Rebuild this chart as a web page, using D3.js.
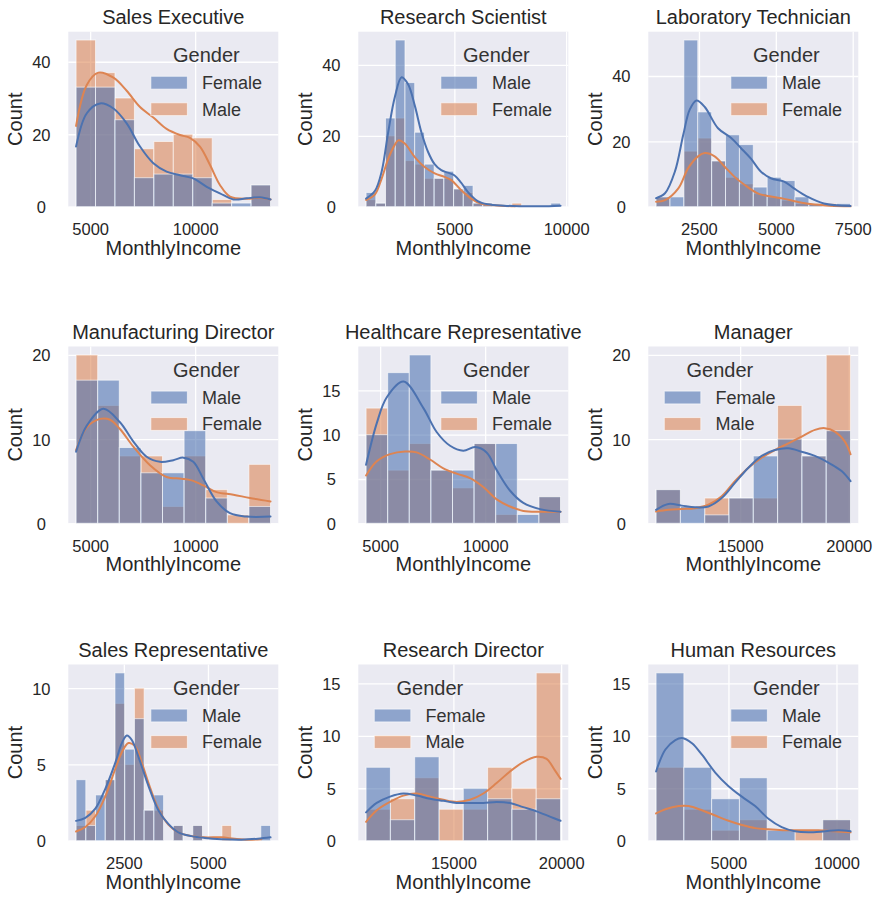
<!DOCTYPE html>
<html>
<head>
<meta charset="utf-8">
<script src="https://cdn.jsdelivr.net/npm/d3@7"></script>
<style>
  body { margin: 0; background: #fff; }
  svg { display: block; }
</style>
</head>
<body>
<script>
// ---------- Data: monthly income histograms by job role, split by gender ----------
const jobRoles = [
  "Sales Executive", "Research Scientist", "Laboratory Technician",
  "Manufacturing Director", "Healthcare Representative", "Manager",
  "Sales Representative", "Research Director", "Human Resources"
];

// Sales Executive
const salesExecHue = ["Female", "Male"];
const salesExecRange = [4330, 13590];
const salesExecFemale = [33, 33, 24, 8, 9, 9, 8, 1, 1, 6];
const salesExecMale = [46, 37, 30, 16, 18, 20, 19, 2, 0, 6];
const salesExecKdeFemale = [[4330,16.6],[4840,25.8],[5470,28.5],[6110,27.1],[6740,23],[7375,16.6],[8010,12],[8640,9.7],[9280,8.7],[9910,7.8],[10550,5.5],[11180,3.7],[11820,2],[12450,2.3],[13085,2.6],[13590,2]];
const salesExecKdeMale = [[4330,22.3],[4840,33.6],[5390,37],[6110,35.6],[6740,32],[7375,27.5],[8010,24.6],[8640,21.5],[9280,19.8],[9750,19],[10230,16.6],[10710,11.5],[11180,6],[11660,2.8],[12450,2.2],[13085,2.5],[13590,2]];
const salesExecXTicks = [5000, 10000];
const salesExecYTicks = [0, 20, 40];

// Research Scientist
const resSciHue = ["Male", "Female"];
const resSciRange = [1050, 9750];
const resSciMale = [4, 1, 25, 47, 35, 21, 12, 8, 10, 5, 6, 1, 1, 0, 0, 0, 0, 0, 0, 1];
const resSciFemale = [2, 1, 20, 25, 13, 12, 8, 8, 8, 5, 4, 1, 1, 0, 0, 1, 0, 0, 0, 0];
const resSciKdeMale = [[1050,2.3],[1450,4.5],[1750,10],[2040,21],[2340,31],[2640,36.5],[2930,34.5],[3230,28.5],[3525,21],[3820,15.5],[4115,12],[4415,10.3],[4710,9.6],[5010,8.8],[5300,6.8],[5600,4.2],[6045,1.6],[6490,0.7],[7230,0.3],[8000,0.15],[8860,0.1],[9750,0.3]];
const resSciKdeFemale = [[1050,1.9],[1450,3.5],[1750,8],[2040,13.5],[2340,17.5],[2490,18.7],[2780,17.8],[3230,14],[3670,11.2],[4120,9.4],[4560,8.4],[4860,7.5],[5300,4.7],[5750,2.3],[6190,0.9],[6785,0.4],[7700,0.1]];
const resSciXTicks = [5000, 10000];
const resSciYTicks = [0, 20, 40];

// Laboratory Technician
const labTechHue = ["Male", "Female"];
const labTechRange = [1106, 7429];
const labTechMale = [3, 3, 51, 29, 14, 22, 19, 6, 9, 8, 3, 1, 0, 1];
const labTechFemale = [3, 0, 17, 21, 14, 9, 7, 4, 3, 2, 1, 1, 1, 0];
const labTechKdeMale = [[1106,2.6],[1396,4.1],[1720,10.8],[1990,22],[2200,29.7],[2420,32.5],[2690,30.5],[3120,24],[3550,21],[3870,17.9],[4190,14.7],[4510,10.8],[4840,8.7],[5270,7.7],[5590,5.6],[6020,3.1],[6560,1],[7429,0.2]];
const labTechKdeFemale = [[1106,1.5],[1400,2],[1830,5.6],[2150,11.8],[2470,15.4],[2690,16.4],[3010,15.4],[3330,12.3],[3650,9.2],[3980,6.7],[4410,4.1],[4840,3.1],[5270,2.4],[5700,1.5],[6130,0.8],[6770,0.3],[7429,0.1]];
const labTechXTicks = [2500, 5000, 7500];
const labTechYTicks = [0, 20, 40];

// Manufacturing Director
const mfgDirHue = ["Male", "Female"];
const mfgDirRange = [4330, 13590];
const mfgDirMale = [17, 17, 9, 6, 6, 11, 3, 0, 2];
const mfgDirFemale = [20, 14, 8, 8, 2, 8, 4, 1, 7];
const mfgDirKdeMale = [[4330,8.5],[4840,11.6],[5630,13.6],[6420,12],[7060,9.7],[7690,7.9],[8330,7.3],[8960,7.5],[9440,7.8],[9910,7.3],[10390,5.3],[11020,2.6],[11660,1.2],[12450,0.8],[13590,0.8]];
const mfgDirKdeFemale = [[4330,8.7],[4840,11.4],[5470,12.4],[5950,12.3],[6420,11.2],[7060,9.1],[7850,6.9],[8640,5.5],[9360,5.3],[9830,5.1],[10390,4.5],[11020,3.7],[11820,3.4],[12610,3],[13590,2.6]];
const mfgDirXTicks = [5000, 10000];
const mfgDirYTicks = [0, 10, 20];

// Healthcare Representative
const healthRepHue = ["Male", "Female"];
const healthRepRange = [4330, 13590];
const healthRepMale = [10, 17, 19, 6, 6, 9, 9, 1, 3];
const healthRepFemale = [13, 6, 9, 6, 4, 9, 1, 0, 3];
const healthRepKdeMale = [[4330,6.6],[4840,11.3],[5310,14.2],[6110,16],[7060,13],[7690,10.3],[8330,8.75],[8960,8.2],[9520,8.6],[10070,8],[10550,6],[11180,3.7],[11820,2.3],[12610,1.6],[13590,1.3]];
const healthRepKdeFemale = [[4330,5.4],[4840,7],[5470,7.8],[6190,8.1],[6740,8],[7375,7.2],[8010,6.2],[8640,5.6],[9280,5.1],[9910,4.1],[10550,2.7],[11180,1.9],[11820,1.4],[12610,1.3],[13590,1.3]];
const healthRepXTicks = [5000, 10000];
const healthRepYTicks = [0, 5, 10, 15];

// Manager
const managerHue = ["Female", "Male"];
const managerRange = [11130, 20080];
const managerFemale = [4, 2, 1, 3, 8, 10, 8, 11];
const managerMale = [4, 0, 3, 3, 3, 14, 8, 20];
const managerKdeFemale = [[11130,1.6],[11700,2.3],[12310,2.1],[12920,1.9],[13540,2],[14150,3],[14760,4.8],[15380,6.6],[15990,8],[16600,8.7],[17220,8.9],[17830,8.5],[18440,8],[19060,7.2],[19670,6.2],[20080,5]];
const managerKdeMale = [[11130,1.4],[11700,1.6],[12310,1.7],[12920,1.8],[13540,2.2],[14150,3.2],[14760,5],[15380,6.6],[15990,7.8],[16600,8.7],[17220,9.5],[17830,10.3],[18440,11.1],[18900,11.3],[19360,10.9],[19820,9.7],[20080,8.2]];
const managerXTicks = [15000, 20000];
const managerYTicks = [0, 10, 20];

// Sales Representative
const salesRepHue = ["Male", "Female"];
const salesRepRange = [1080, 6860];
const salesRepMale = [4, 1, 3, 4, 11, 6, 8, 2, 3, 0, 1, 0, 1, 0, 0, 0, 0, 0, 0, 1];
const salesRepFemale = [1, 2, 0, 4, 9, 5, 10, 2, 2, 0, 1, 0, 1, 0, 0, 1, 0, 0, 0, 0];
const salesRepKdeMale = [[1080,1.3],[1356,1.5],[1652,2.1],[1948,3.4],[2244,5.1],[2441,6.4],[2589,6.9],[2737,6.6],[2934,5.5],[3230,3.6],[3526,2],[3822,1.1],[4118,0.55],[4512,0.3],[4907,0.18],[5400,0.1],[5992,0.07],[6485,0.13],[6860,0.22]];
const salesRepKdeFemale = [[1080,0.6],[1356,0.9],[1652,1.6],[1948,2.9],[2244,4.7],[2441,5.8],[2638,6.4],[2836,6.2],[3033,5.1],[3230,3.8],[3526,2.1],[3822,1.05],[4118,0.55],[4512,0.3],[4907,0.22],[5400,0.22],[5794,0.13],[6189,0.07],[6584,0.1]];
const salesRepXTicks = [2500, 5000];
const salesRepYTicks = [0, 5, 10];

// Research Director
const resDirHue = ["Female", "Male"];
const resDirRange = [10950, 19970];
const resDirFemale = [7, 2, 8, 0, 5, 4, 3, 4];
const resDirMale = [3, 4, 6, 3, 3, 7, 5, 16];
const resDirKdeFemale = [[10950,2.7],[11444,3.6],[12062,4.2],[12680,4.5],[13298,4.3],[13916,4],[14534,3.8],[15152,3.6],[15770,3.6],[16388,3.6],[17006,3.7],[17624,3.6],[18242,3.2],[18860,2.8],[19478,2.3],[19970,1.9]];
const resDirKdeMale = [[10950,1.8],[11444,2.9],[12062,3.7],[12680,4.3],[13298,4.5],[13916,4.2],[14534,3.9],[15152,3.7],[15770,3.9],[16388,4.5],[17006,5.5],[17624,6.6],[18242,7.5],[18860,8],[19324,7.8],[19710,6.7],[19970,5.9]];
const resDirXTicks = [15000, 20000];
const resDirYTicks = [0, 5, 10, 15];

// Human Resources
const hrHue = ["Male", "Female"];
const hrRange = [1650, 10650];
const hrMale = [16, 7, 4, 6, 1, 0, 2];
const hrFemale = [7, 3, 1, 2, 0, 1, 2];
const hrKdeMale = [[1650,6.6],[2081,8.7],[2542,9.6],[2850,9.8],[3312,9.3],[3773,8.2],[4388,6.5],[5004,5.2],[5619,4.2],[6235,3.3],[6850,2.1],[7465,1.3],[8080,0.9],[8700,0.8],[9465,0.9],[10081,1],[10650,0.9]];
const hrKdeFemale = [[1650,2.6],[2081,3],[2696,3.3],[3158,3.3],[3773,2.9],[4388,2.4],[5004,1.9],[5619,1.5],[6235,1.2],[6850,1.1],[7619,1],[8390,1],[9158,1],[9927,0.9],[10650,0.8]];
const hrXTicks = [5000, 10000];
const hrYTicks = [0, 5, 10, 15];

// first hue level is drawn in blue, second in orange
const panels = [
  { hue: salesExecHue, range: salesExecRange, first: salesExecFemale, second: salesExecMale, kdeFirst: salesExecKdeFemale, kdeSecond: salesExecKdeMale, xTicks: salesExecXTicks, yTicks: salesExecYTicks },
  { hue: resSciHue, range: resSciRange, first: resSciMale, second: resSciFemale, kdeFirst: resSciKdeMale, kdeSecond: resSciKdeFemale, xTicks: resSciXTicks, yTicks: resSciYTicks },
  { hue: labTechHue, range: labTechRange, first: labTechMale, second: labTechFemale, kdeFirst: labTechKdeMale, kdeSecond: labTechKdeFemale, xTicks: labTechXTicks, yTicks: labTechYTicks },
  { hue: mfgDirHue, range: mfgDirRange, first: mfgDirMale, second: mfgDirFemale, kdeFirst: mfgDirKdeMale, kdeSecond: mfgDirKdeFemale, xTicks: mfgDirXTicks, yTicks: mfgDirYTicks },
  { hue: healthRepHue, range: healthRepRange, first: healthRepMale, second: healthRepFemale, kdeFirst: healthRepKdeMale, kdeSecond: healthRepKdeFemale, xTicks: healthRepXTicks, yTicks: healthRepYTicks },
  { hue: managerHue, range: managerRange, first: managerFemale, second: managerMale, kdeFirst: managerKdeFemale, kdeSecond: managerKdeMale, xTicks: managerXTicks, yTicks: managerYTicks },
  { hue: salesRepHue, range: salesRepRange, first: salesRepMale, second: salesRepFemale, kdeFirst: salesRepKdeMale, kdeSecond: salesRepKdeFemale, xTicks: salesRepXTicks, yTicks: salesRepYTicks },
  { hue: resDirHue, range: resDirRange, first: resDirFemale, second: resDirMale, kdeFirst: resDirKdeFemale, kdeSecond: resDirKdeMale, xTicks: resDirXTicks, yTicks: resDirYTicks },
  { hue: hrHue, range: hrRange, first: hrMale, second: hrFemale, kdeFirst: hrKdeMale, kdeSecond: hrKdeFemale, xTicks: hrXTicks, yTicks: hrYTicks }
].map((p, i) => Object.assign({ title: jobRoles[i] }, p));

// ---------- Layout ----------
const W = 880, H = 898;
const colLeft = [68.3, 358.3, 648.3];
const plotW = 210;
const rowTop = [31.7, 346.5, 664.5];
const rowBottom = [206.7, 523.3, 840.7];
const legendSide = ["right", "right", "right", "right", "right", "left", "right", "left", "right"];
const xPad = 0.04, yPad = 0.05;
const BLUE = "#4C72B0", ORANGE = "#DD8452";
const BG = "#EAEAF2", TEXT = "#262626";
const FONT = "'Liberation Sans', Arial, Helvetica, sans-serif";
const TICK_SIZE = "16.5px";

const svg = d3.select("body").append("svg")
  .attr("width", W).attr("height", H)
  .style("font-family", FONT);
svg.append("rect").attr("width", W).attr("height", H).attr("fill", "#fff");

panels.forEach((p, i) => {
  const col = i % 3, row = Math.floor(i / 3);
  const x0 = colLeft[col], x1 = x0 + plotW;
  const y0 = rowTop[row], y1 = rowBottom[row];
  const span = p.range[1] - p.range[0];
  const nBins = p.first.length;

  const x = d3.scaleLinear()
    .domain([p.range[0] - xPad * span, p.range[1] + xPad * span])
    .range([x0, x1]);
  const yMax = d3.max(p.first.concat(p.second)) * (1 + yPad);
  const y = d3.scaleLinear().domain([0, yMax]).range([y1, y0]);
  const edges = d3.range(nBins + 1).map(k => p.range[0] + k * span / nBins);

  const g = svg.append("g");

  // plot background
  g.append("rect")
    .attr("x", x0).attr("y", y0)
    .attr("width", x1 - x0).attr("height", y1 - y0)
    .attr("fill", BG);

  // white grid
  g.append("g")
    .attr("transform", `translate(0,${y1})`)
    .call(d3.axisBottom(x).tickValues(p.xTicks).tickSize(-(y1 - y0)).tickFormat(""))
    .call(a => a.select(".domain").remove())
    .call(a => a.selectAll("line").attr("stroke", "#fff").attr("stroke-width", 1.3));
  g.append("g")
    .attr("transform", `translate(${x0},0)`)
    .call(d3.axisLeft(y).tickValues(p.yTicks).tickSize(-(x1 - x0)).tickFormat(""))
    .call(a => a.select(".domain").remove())
    .call(a => a.selectAll("line").attr("stroke", "#fff").attr("stroke-width", 1.3));

  // layered histogram bars: second level underneath, first level on top
  [[p.second, ORANGE], [p.first, BLUE]].forEach(([counts, color]) => {
    const bins = counts.map((c, k) => ({ c, a: edges[k], b: edges[k + 1] })).filter(d => d.c > 0);
    g.append("g").selectAll("rect").data(bins).join("rect")
      .attr("x", d => x(d.a))
      .attr("width", d => x(d.b) - x(d.a))
      .attr("y", d => y(d.c))
      .attr("height", d => y(0) - y(d.c))
      .attr("fill", color).attr("fill-opacity", 0.58)
      .attr("stroke", "#fff").attr("stroke-opacity", 0.6).attr("stroke-width", 1);
  });

  // density curves
  const line = d3.line()
    .x(d => x(d[0])).y(d => y(d[1]))
    .curve(d3.curveCatmullRom.alpha(0.5));
  [[p.kdeSecond, ORANGE], [p.kdeFirst, BLUE]].forEach(([pts, color]) => {
    g.append("path").datum(pts)
      .attr("d", line)
      .attr("fill", "none").attr("stroke", color)
      .attr("stroke-width", 2).attr("stroke-linecap", "round");
  });

  // tick labels
  g.append("g")
    .attr("transform", `translate(0,${y1})`)
    .call(d3.axisBottom(x).tickValues(p.xTicks).tickSize(0).tickPadding(16.5).tickFormat(d3.format("d")))
    .call(a => a.select(".domain").remove())
    .call(a => a.selectAll("text").attr("fill", TEXT).style("font-size", TICK_SIZE).style("font-family", FONT));
  g.append("g")
    .attr("transform", `translate(${x0},0)`)
    .call(d3.axisLeft(y).tickValues(p.yTicks).tickSize(0).tickFormat(d3.format("d")))
    .call(a => a.select(".domain").remove())
    .call(a => a.selectAll("text")
      .attr("x", -27).attr("text-anchor", "middle").attr("dy", "0.36em")
      .attr("fill", TEXT).style("font-size", TICK_SIZE).style("font-family", FONT));

  // titles
  g.append("text")
    .attr("x", (x0 + x1) / 2).attr("y", y0 - 7.5)
    .attr("text-anchor", "middle").attr("fill", TEXT)
    .style("font-size", "20px").text(p.title);
  g.append("text")
    .attr("x", (x0 + x1) / 2).attr("y", y1 + 48)
    .attr("text-anchor", "middle").attr("fill", TEXT)
    .style("font-size", "20px").text("MonthlyIncome");
  g.append("text")
    .attr("transform", `translate(${x0 - 46},${(y0 + y1) / 2}) rotate(-90)`)
    .attr("text-anchor", "middle").attr("fill", TEXT)
    .style("font-size", "20px").text("Count");

  // legend
  const lg = g.append("g");
  const handleW = 36.5, handleH = 12.8, gap = 14.6;
  const title = lg.append("text").attr("fill", "#333").style("font-size", "20px").text("Gender");
  const labels = p.hue.map(h => lg.append("text").attr("fill", "#333").style("font-size", "18px").text(h));
  const labelW = d3.max(labels, t => t.node().getComputedTextLength());
  const titleW = title.node().getComputedTextLength();
  const boxW = Math.max(titleW, handleW + gap + labelW);
  const boxLeft = legendSide[i] === "right" ? x1 - 16.3 - boxW : x0 + 16;
  title.attr("x", boxLeft + boxW / 2).attr("y", y0 + 30.5).attr("text-anchor", "middle");
  [BLUE, ORANGE].forEach((color, k) => {
    const cy = y0 + 51 + k * 26.5;
    lg.append("rect")
      .attr("x", boxLeft).attr("y", cy - handleH / 2)
      .attr("width", handleW).attr("height", handleH)
      .attr("fill", color).attr("fill-opacity", 0.58)
      .attr("stroke", "#fff").attr("stroke-opacity", 0.6).attr("stroke-width", 1);
    labels[k].attr("x", boxLeft + handleW + gap).attr("y", cy + 6.3);
  });
});
</script>
</body>
</html>
